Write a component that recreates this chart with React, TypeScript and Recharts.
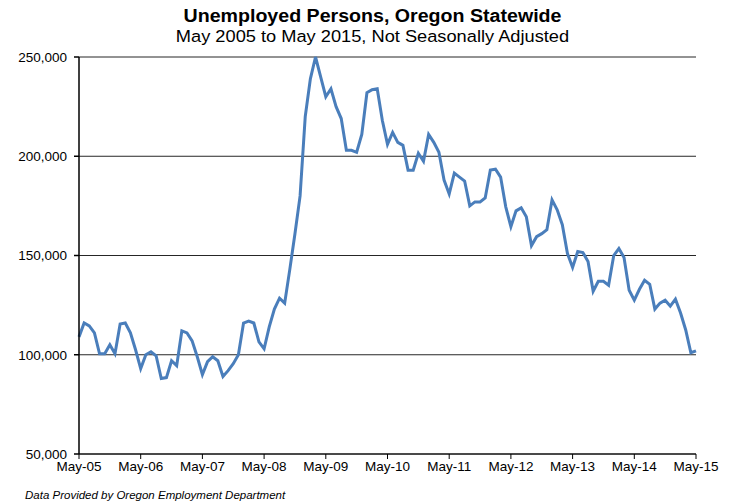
import React from 'react';
import { LineChart, Line, XAxis, YAxis, CartesianGrid } from 'recharts';

// Monthly unemployed persons, May 2005 .. May 2015
const monthNames = ['May', 'Jun', 'Jul', 'Aug', 'Sep', 'Oct', 'Nov', 'Dec', 'Jan', 'Feb', 'Mar', 'Apr'];

const unemployed = [
  109000, 116000, 114500, 111000, 100500, 100500, 105000, 100500, 115500, 116000, 111000, 102500,
  93000, 100000, 101500, 99500, 88000, 88500, 97000, 94500, 112000, 111000, 107000, 99000,
  90000, 96500, 99000, 97000, 89000, 92000, 95500, 100000, 116000, 117000, 116000, 106500,
  103000, 114000, 123000, 128500, 126000, 143000, 161000, 180000, 220000, 239000, 250000, 240000,
  230000, 234000, 225000, 219000, 203000, 203000, 202000, 211000, 232000, 233500, 234000, 218000,
  206000, 212000, 207000, 205500, 193000, 193000, 201500, 197500, 211000, 207000, 202000, 188000,
  181000, 191500, 189500, 187500, 175000, 177000, 177000, 179000, 193000, 193500, 189500, 174500,
  164500, 172500, 174000, 169500, 155000, 159500, 161000, 163000, 178000, 173000, 165500, 151000,
  144000, 152000, 151500, 147000, 132000, 137000, 137000, 135000, 150000, 153500, 149000, 132500,
  127500, 133000, 137500, 135500, 123000, 126000, 127500, 124500, 128000, 121000, 112500, 101000,
  102000,
];

const yearTicks = ['May-05', 'May-06', 'May-07', 'May-08', 'May-09', 'May-10', 'May-11', 'May-12', 'May-13', 'May-14', 'May-15'];
const yTicks = [50000, 100000, 150000, 200000, 250000];

const data = unemployed.map((value, i) => {
  const yr = 5 + Math.floor((i + 4) / 12);
  return { month: `${monthNames[i % 12]}-${String(yr).padStart(2, '0')}`, value };
});

const font = '"Liberation Sans", Arial, sans-serif';

export default function App() {
  return (
    <div style={{ position: 'fixed', top: 0, left: 0, width: 735, height: 503, fontFamily: font, background: '#fff', overflow: 'hidden' }}>
      <LineChart
        width={735}
        height={503}
        data={data}
        margin={{ top: 57, right: 39, left: 9, bottom: 19 }}
        style={{ position: 'absolute', top: 0, left: 0 }}
      >
        <CartesianGrid horizontal vertical={false} stroke="#000" strokeOpacity={0.85} />
        <XAxis
          dataKey="month"
          ticks={yearTicks}
          interval={0}
          height={30}
          tickSize={5}
          stroke="#000"
          tick={{ fill: '#000', fontSize: 13.5, fontFamily: font }}
        />
        <YAxis
          domain={[50000, 250000]}
          ticks={yTicks}
          width={70}
          tickSize={5}
          tickMargin={7}
          stroke="#000"
          strokeWidth={1.5}
          tick={{ fill: '#000', fontSize: 13.5, fontFamily: font }}
          tickFormatter={(v: number) => v.toLocaleString('en-US')}
        />
        <YAxis yAxisId="r" orientation="right" width={0} domain={[50000, 250000]} tick={false} tickLine={false} stroke="#000" />
        <Line
          type="linear"
          dataKey="value"
          stroke="#4a7ebb"
          strokeWidth={3}
          dot={false}
          isAnimationActive={false}
        />
      </LineChart>
      <div style={{ position: 'absolute', top: 6, left: 0, width: 745, textAlign: 'center', fontSize: 17.5, fontWeight: 'bold', lineHeight: '20px', transform: 'scaleX(1.12)', zIndex: 2 }}>
        Unemployed Persons, Oregon Statewide
      </div>
      <div style={{ position: 'absolute', top: 27, left: 0, width: 745, textAlign: 'center', fontSize: 16.3, lineHeight: '18px', transform: 'scaleX(1.12)', zIndex: 2 }}>
        May 2005 to May 2015, Not Seasonally Adjusted
      </div>
      <div style={{ position: 'absolute', top: 488, left: 25, fontSize: 11.5, fontStyle: 'italic', lineHeight: '14px', zIndex: 2 }}>
        Data Provided by Oregon Employment Department
      </div>
    </div>
  );
}
